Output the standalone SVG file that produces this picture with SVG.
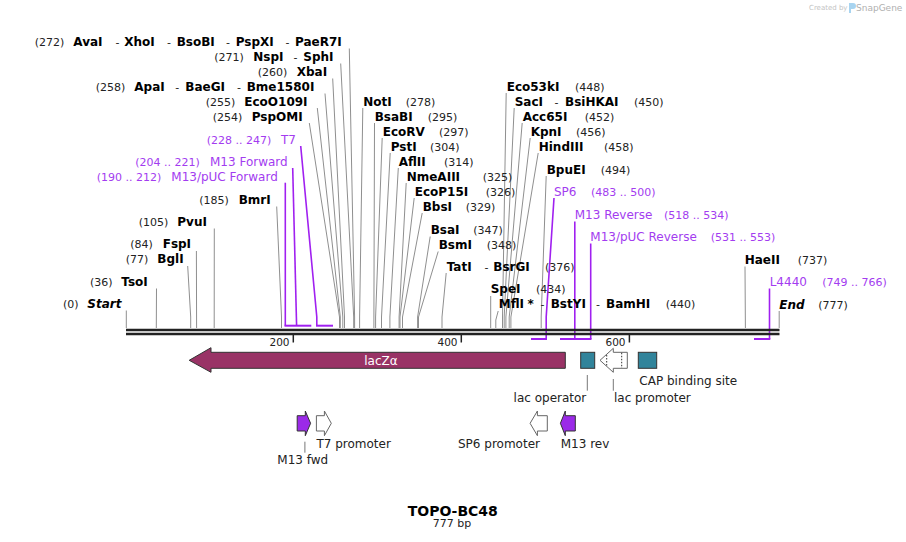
<svg xmlns="http://www.w3.org/2000/svg" width="906" height="542" viewBox="0 0 906 542">
<style>
.n{font-family:"DejaVu Sans",Verdana,sans-serif;font-size:12px;font-weight:bold;fill:#000}
.bi{font-family:"DejaVu Sans",Verdana,sans-serif;font-size:12px;font-weight:bold;font-style:italic;fill:#000}
.p{font-family:"DejaVu Sans",Verdana,sans-serif;font-size:11px;fill:#222}
.f{font-family:"DejaVu Sans",Verdana,sans-serif;font-size:12px;fill:#a33cf0}
.fp{font-family:"DejaVu Sans",Verdana,sans-serif;font-size:11px;fill:#a33cf0}
.l{font-family:"DejaVu Sans",Verdana,sans-serif;font-size:12px;fill:#222}
.t{font-family:"DejaVu Sans",Verdana,sans-serif;font-size:10.5px;fill:#222}
.cut{stroke:#8f8f8f;stroke-width:1;fill:none}
.pl{stroke:#a020f0;stroke-width:1.6;fill:none}
.pb{stroke:#a020f0;stroke-width:2;fill:none}
.bb{stroke:#222;stroke-width:2.4}
.tk{stroke:#222;stroke-width:1.5}
.ll{stroke:#777;stroke-width:1;fill:none}
.dot{stroke:#333;stroke-width:1;stroke-dasharray:1.5,1.5}
</style>
<g id="logo">
<text x="809" y="10" style="font-family:'DejaVu Sans',sans-serif;font-size:7px;fill:#c4c4c4">Created by</text>
<path d="M849 3 h4 a3 3 0 0 1 0 6 h-2 v4 h-2 z" fill="#a8d4f0"/>
<text x="856" y="11" style="font-family:'DejaVu Sans',sans-serif;font-size:9px;fill:#b0b0b0">SnapGene</text>
</g>
<g id="connectors">
<polyline class="cut" points="349.3,48.5 354.6,317 354.6,328"/>
<polyline class="cut" points="340.7,63.5 353.7,317 353.7,328"/>
<polyline class="cut" points="332.7,78.5 344.5,317 344.5,328"/>
<polyline class="cut" points="325,93.5 342.8,317 342.8,328"/>
<polyline class="cut" points="317.3,108 340.3,317 340.3,328"/>
<polyline class="cut" points="309.3,123 339.5,317 339.5,328"/>
<polyline class="cut" points="276.7,206.5 281.5,317 281.5,328"/>
<polyline class="cut" points="214.3,228.5 214.2,328"/>
<polyline class="cut" points="196.4,251 196.6,328"/>
<polyline class="cut" points="187.7,266 190.7,317 190.7,328"/>
<polyline class="cut" points="156.5,288.5 156.3,328"/>
<polyline class="cut" points="126.3,310.5 126.3,328"/>
<polyline class="cut" points="362.8,108 359.6,317 359.6,328"/>
<polyline class="cut" points="374.5,123 373.9,317 373.9,328"/>
<polyline class="cut" points="382.2,138 375.6,317 375.6,328"/>
<polyline class="cut" points="390.2,153 381.5,317 381.5,328"/>
<polyline class="cut" points="398.3,168 389.9,317 389.9,328"/>
<polyline class="cut" points="406.2,183 399.1,317 399.1,328"/>
<polyline class="cut" points="414.2,198 400,317 400,328"/>
<polyline class="cut" points="422.2,213 402.5,317 402.5,328"/>
<polyline class="cut" points="430.2,236.5 417.6,317 417.6,328"/>
<polyline class="cut" points="438.2,251.5 418.5,317 418.5,328"/>
<polyline class="cut" points="446.2,273 442,317 442,328"/>
<polyline class="cut" points="490.7,296 490.7,328"/>
<polyline class="cut" points="498.2,311 495.8,320 495.8,328"/>
<polyline class="cut" points="506.2,93 502.5,317 502.5,328"/>
<polyline class="cut" points="514.2,108 504.2,317 504.2,328"/>
<polyline class="cut" points="522.2,123 505.9,317 505.9,328"/>
<polyline class="cut" points="530.2,138 509.2,317 509.2,328"/>
<polyline class="cut" points="538.2,153 510.9,317 510.9,328"/>
<polyline class="cut" points="546.2,176 541.2,317 541.2,328"/>
<polyline class="cut" points="745,266.5 745.4,328"/>
<polyline class="cut" points="779.2,311 779.2,328"/>
<polyline class="pl" points="300.7,146 316.8,317 316.8,325.7"/>
<polyline class="pl" points="292.7,168 296.6,325.7"/>
<polyline class="pl" points="285.3,182.7 285.3,325.7"/>
<polyline class="pl" points="554,198 546.2,317 546.2,339"/>
<polyline class="pl" points="574.8,221.5 574.8,339"/>
<polyline class="pl" points="590.7,243.5 590.7,339"/>
<polyline class="pl" points="769.5,288.5 769.5,339"/>
<line class="pb" x1="284.5" y1="325.7" x2="311.3" y2="325.7"/>
<line class="pb" x1="316" y1="325.7" x2="333" y2="325.7"/>
<line class="pb" x1="531" y1="339" x2="547" y2="339"/>
<line class="pb" x1="560" y1="339" x2="591.5" y2="339"/>
<line class="pb" x1="754" y1="339" x2="770.3" y2="339"/>
<line class="ll" x1="587.3" y1="375" x2="587.3" y2="390.7"/>
<line class="ll" x1="613.3" y1="379" x2="613.3" y2="390.7"/>
<line class="ll" x1="304.9" y1="441.7" x2="304.9" y2="452.7"/>
</g>
<g id="backbone">
<line class="bb" x1="126" y1="330" x2="779.5" y2="330"/>
<line class="bb" x1="126" y1="334" x2="779.5" y2="334"/>
<line class="tk" x1="293.3" y1="335" x2="293.3" y2="342.5"/>
<line class="tk" x1="461.3" y1="335" x2="461.3" y2="342.5"/>
<line class="tk" x1="629.4" y1="335" x2="629.4" y2="342.5"/>
<text class="t" x="289.5" y="346" text-anchor="end">200</text>
<text class="t" x="457.5" y="346" text-anchor="end">400</text>
<text class="t" x="625.5" y="346" text-anchor="end">600</text>
</g>
<g id="site-272"><text class="p" x="34.7" y="46">(272)</text><text class="n" x="73.3" y="46">AvaI</text><text class="p" x="115.5" y="46">-</text><text class="n" x="124.3" y="46">XhoI</text><text class="p" x="167" y="46">-</text><text class="n" x="176.7" y="46">BsoBI</text><text class="p" x="226" y="46">-</text><text class="n" x="235.7" y="46">PspXI</text><text class="p" x="285.5" y="46">-</text><text class="n" x="295" y="46">PaeR7I</text></g>
<g id="site-271"><text class="p" x="214.3" y="61">(271)</text><text class="n" x="253.3" y="61">NspI</text><text class="p" x="293.5" y="61">-</text><text class="n" x="303.3" y="61">SphI</text></g>
<g id="site-260"><text class="p" x="257.7" y="76">(260)</text><text class="n" x="296.7" y="76">XbaI</text></g>
<g id="site-258"><text class="p" x="95.7" y="91">(258)</text><text class="n" x="134.3" y="91">ApaI</text><text class="p" x="175.2" y="91">-</text><text class="n" x="185.3" y="91">BaeGI</text><text class="p" x="237" y="91">-</text><text class="n" x="246.7" y="91">Bme1580I</text></g>
<g id="site-255"><text class="p" x="205.7" y="105.5">(255)</text><text class="n" x="244.3" y="105.5">EcoO109I</text></g>
<g id="site-254"><text class="p" x="212.7" y="120.5">(254)</text><text class="n" x="251.7" y="120.5">PspOMI</text></g>
<g id="feat-T7"><text class="fp" x="206.7" y="144">(228 .. 247)</text><text class="f" x="281" y="144">T7</text></g>
<g id="feat-M13F"><text class="fp" x="135.3" y="166">(204 .. 221)</text><text class="f" x="210" y="166">M13 Forward</text></g>
<g id="feat-M13pUCF"><text class="fp" x="96.7" y="180.7">(190 .. 212)</text><text class="f" x="171.3" y="180.7">M13/pUC Forward</text></g>
<g id="site-185"><text class="p" x="199.3" y="204">(185)</text><text class="n" x="238.7" y="204">BmrI</text></g>
<g id="site-105"><text class="p" x="138.7" y="225.7">(105)</text><text class="n" x="177.3" y="225.7">PvuI</text></g>
<g id="site-84"><text class="p" x="130.3" y="248.3">(84)</text><text class="n" x="162.7" y="248.3">FspI</text></g>
<g id="site-77"><text class="p" x="125.7" y="263.3">(77)</text><text class="n" x="157.3" y="263.3">BglI</text></g>
<g id="site-36"><text class="p" x="90" y="285.7">(36)</text><text class="n" x="121.3" y="285.7">TsoI</text></g>
<g id="start"><text class="p" x="63" y="308.3">(0)</text><text class="bi" x="87.3" y="308.3">Start</text></g>
<g id="site-278"><text class="n" x="363.3" y="105.7">NotI</text><text class="p" x="405.7" y="105.7">(278)</text></g>
<g id="site-295"><text class="n" x="374.7" y="120.7">BsaBI</text><text class="p" x="427.7" y="120.7">(295)</text></g>
<g id="site-297"><text class="n" x="382.7" y="135.7">EcoRV</text><text class="p" x="439" y="135.7">(297)</text></g>
<g id="site-304"><text class="n" x="390.7" y="150.7">PstI</text><text class="p" x="430" y="150.7">(304)</text></g>
<g id="site-314"><text class="n" x="398.7" y="165.7">AflII</text><text class="p" x="444" y="165.7">(314)</text></g>
<g id="site-325"><text class="n" x="406.7" y="180.7">NmeAIII</text><text class="p" x="482.7" y="180.7">(325)</text></g>
<g id="site-326"><text class="n" x="414.7" y="195.7">EcoP15I</text><text class="p" x="485.7" y="195.7">(326)</text></g>
<g id="site-329"><text class="n" x="422.7" y="210.7">BbsI</text><text class="p" x="465.7" y="210.7">(329)</text></g>
<g id="site-347"><text class="n" x="430.7" y="234">BsaI</text><text class="p" x="473.3" y="234">(347)</text></g>
<g id="site-348"><text class="n" x="438.7" y="249">BsmI</text><text class="p" x="486.7" y="249">(348)</text></g>
<g id="site-376"><text class="n" x="446.7" y="270.7">TatI</text><text class="p" x="484.5" y="270.7">-</text><text class="n" x="493.3" y="270.7">BsrGI</text><text class="p" x="545" y="270.7">(376)</text></g>
<g id="site-434"><text class="n" x="490.7" y="293.3">SpeI</text><text class="p" x="536" y="293.3">(434)</text></g>
<g id="site-440"><text class="n" x="498.7" y="308.3">MflI</text><text class="n" x="527.5" y="308.3">*</text><text class="p" x="540.5" y="308.3">-</text><text class="n" x="550.7" y="308.3">BstYI</text><text class="p" x="596" y="308.3">-</text><text class="n" x="606" y="308.3">BamHI</text><text class="p" x="665.7" y="308.3">(440)</text></g>
<g id="site-448"><text class="n" x="506.7" y="90.5">Eco53kI</text><text class="p" x="575" y="90.5">(448)</text></g>
<g id="site-450"><text class="n" x="514.7" y="105.7">SacI</text><text class="p" x="554.5" y="105.7">-</text><text class="n" x="565" y="105.7">BsiHKAI</text><text class="p" x="634" y="105.7">(450)</text></g>
<g id="site-452"><text class="n" x="522.7" y="120.7">Acc65I</text><text class="p" x="584.7" y="120.7">(452)</text></g>
<g id="site-456"><text class="n" x="530.7" y="135.7">KpnI</text><text class="p" x="576" y="135.7">(456)</text></g>
<g id="site-458"><text class="n" x="538.7" y="150.7">HindIII</text><text class="p" x="604" y="150.7">(458)</text></g>
<g id="site-494"><text class="n" x="546.7" y="173.7">BpuEI</text><text class="p" x="600.7" y="173.7">(494)</text></g>
<g id="feat-SP6"><text class="f" x="554" y="195.7">SP6</text><text class="fp" x="591" y="195.7">(483 .. 500)</text></g>
<g id="feat-M13R"><text class="f" x="574.7" y="218.7">M13 Reverse</text><text class="fp" x="664" y="218.7">(518 .. 534)</text></g>
<g id="feat-M13pUCR"><text class="f" x="590.3" y="240.7">M13/pUC Reverse</text><text class="fp" x="710.7" y="240.7">(531 .. 553)</text></g>
<g id="site-737"><text class="n" x="744.7" y="264">HaeII</text><text class="p" x="797.7" y="264">(737)</text></g>
<g id="feat-L4440"><text class="f" x="769.7" y="285.7">L4440</text><text class="fp" x="822.3" y="285.7">(749 .. 766)</text></g>
<g id="end"><text class="bi" x="779.3" y="309">End</text><text class="p" x="818.3" y="309">(777)</text></g>
<g id="lacZa">
<path d="M565.3 352.3 L211 352.3 L211 347.7 L189.2 360.3 L211 372.3 L211 368.3 L565.3 368.3 Z" fill="#993366" stroke="#333" stroke-width="1"/>
<text x="381" y="364.5" text-anchor="middle" style="font-family:'DejaVu Sans',sans-serif;font-size:12px;fill:#fff">lacZα</text>
</g>
<g id="lac-operator">
<rect x="580.7" y="352.3" width="14" height="16" fill="#31849b" stroke="#333" stroke-width="1"/>
<text class="l" x="513.6" y="401.7">lac operator</text>
</g>
<g id="lac-promoter">
<path d="M627.3 352.3 L613.3 352.3 L613.3 348.3 L600 360.3 L613.3 372.3 L613.3 368.3 L627.3 368.3 Z" fill="#fff" stroke="#666" stroke-width="1"/>
<line class="dot" x1="606.7" y1="355" x2="606.7" y2="366"/>
<line class="dot" x1="621.7" y1="352.8" x2="621.7" y2="368"/>
<text class="l" x="614" y="401.7">lac promoter</text>
</g>
<g id="cap-site">
<rect x="638.3" y="352.3" width="18.4" height="16" fill="#31849b" stroke="#333" stroke-width="1"/>
<text class="l" x="639.3" y="385">CAP binding site</text>
</g>
<g id="m13-fwd">
<path d="M297.2 415.7 L305.3 415.7 L305.3 411 L310.6 423.3 L305.3 435.7 L305.3 431 L297.2 431 Z" fill="#9b2ae8" stroke="#333" stroke-width="1"/>
<text class="l" x="277.3" y="464">M13 fwd</text>
</g>
<g id="t7-promoter">
<path d="M316.4 415.7 L324.4 415.7 L324.4 411 L331.3 423.3 L324.4 435.7 L324.4 431 L316.4 431 Z" fill="#fff" stroke="#666" stroke-width="1"/>
<text class="l" x="316.4" y="448.3">T7 promoter</text>
</g>
<g id="sp6-promoter">
<path d="M547.3 415.7 L537.4 415.7 L537.4 411 L530.1 423.3 L537.4 435.7 L537.4 431 L547.3 431 Z" fill="#fff" stroke="#666" stroke-width="1"/>
<text class="l" x="458" y="448.3">SP6 promoter</text>
</g>
<g id="m13-rev">
<path d="M575.3 415.7 L565.3 415.7 L565.3 411 L560.4 423.3 L565.3 435.7 L565.3 431 L575.3 431 Z" fill="#9b2ae8" stroke="#333" stroke-width="1"/>
<text class="l" x="560.7" y="448.3">M13 rev</text>
</g>
<g id="title">
<text x="452.8" y="516" text-anchor="middle" style="font-family:'DejaVu Sans',sans-serif;font-size:14px;font-weight:bold;fill:#000">TOPO-BC48</text>
<text x="452" y="527.3" text-anchor="middle" style="font-family:'DejaVu Sans',sans-serif;font-size:11px;fill:#222">777 bp</text>
</g>
</svg>
